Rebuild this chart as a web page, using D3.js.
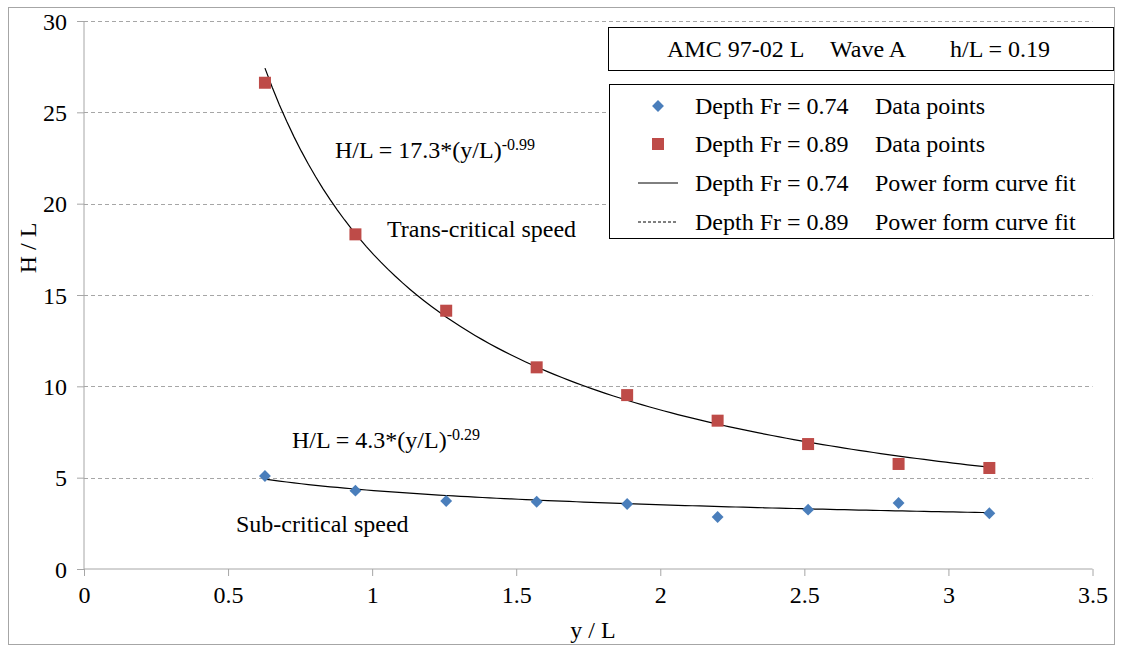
<!DOCTYPE html>
<html>
<head>
<meta charset="utf-8">
<script src="https://cdn.jsdelivr.net/npm/d3@7"></script>
<style>
  body { margin: 0; background: #fff; font-family: "Liberation Serif", serif; }
</style>
</head>
<body>
<svg width="1121" height="651"></svg>
<script>
var width = 1121,
    height = 651,
    margin = { left: 84, right: 28, top: 21, bottom: 82 }

// data
var xValues = [0.628, 0.942, 1.257, 1.571, 1.885, 2.199, 2.513, 2.827, 3.142]
var subCritical = [5.09, 4.29, 3.72, 3.68, 3.56, 2.85, 3.25, 3.61, 3.05]   // Depth Fr = 0.74
var transCritical = [26.62, 18.32, 14.14, 11.04, 9.52, 8.12, 6.84, 5.75, 5.53] // Depth Fr = 0.89
var fitCoef = [4.3, 17.3]
var fitExp = [-0.29, -0.99]
var xTicks = [0, 0.5, 1, 1.5, 2, 2.5, 3, 3.5]
var yTicks = [0, 5, 10, 15, 20, 25, 30]
var titleParts = ["AMC 97-02 L", "Wave A", "h/L = 0.19"]
var legendLabels = [
    ["Depth Fr = 0.74", "Data points"],
    ["Depth Fr = 0.89", "Data points"],
    ["Depth Fr = 0.74", "Power form curve fit"],
    ["Depth Fr = 0.89", "Power form curve fit"]
]

var blue = "#4a7ebb", red = "#be4b48", grid = "#a6a6a6", axisCol = "#a6a6a6"
var font = "Liberation Serif, Times New Roman, Nimbus Roman, Times, serif"
var fs = 24, fsSup = 16

var svg = d3.select("svg")

// outer chart border
svg.append("rect").attr("x", 8.5).attr("y", 7.5)
    .attr("width", 1106).attr("height", 637)
    .attr("fill", "#fff").attr("stroke", "#a6a6a6").attr("stroke-width", 1)

var g = svg.append("g").attr("transform", "translate(" + margin.left + "," + margin.top + ")")

var x = d3.scaleLinear().domain([0, 3.5]).range([0, 1008.5])
var y = d3.scaleLinear().domain([0, 30]).range([548, 0])

// gridlines
g.selectAll(".grid").data(yTicks.filter(function(d) { return d > 0 }))
    .enter().append("line")
    .attr("x1", 0).attr("x2", x(3.5))
    .attr("y1", function(d) { return Math.round(y(d)) + 0.5 })
    .attr("y2", function(d) { return Math.round(y(d)) + 0.5 })
    .attr("stroke", grid).attr("stroke-dasharray", "4,3")

var xAxis = d3.axisBottom(x).tickValues(xTicks).tickSize(7).tickFormat(d3.format("~g"))
var yAxis = d3.axisLeft(y).tickValues(yTicks).tickSize(7).tickFormat(d3.format("~g"))

var gx = g.append("g").attr("transform", "translate(0," + y(0) + ")").call(xAxis)
var gy = g.append("g").call(yAxis)
;[gx, gy].forEach(function(a) {
    a.attr("font-family", font).attr("font-size", fs)
    a.select(".domain").attr("d", null)
    a.selectAll(".tick line").attr("stroke", axisCol)
    a.selectAll("text").attr("fill", "#000")
})
gx.append("line").attr("x1", 0).attr("x2", x(3.5)).attr("stroke", axisCol)
gy.append("line").attr("y1", 0).attr("y2", y(0)).attr("stroke", axisCol)
gx.selectAll("text").attr("dy", "1.0em")
gy.selectAll("text").attr("dx", "-7").attr("dy", "0.34em")

function label(sel, xp, yp, txt) {
    return sel.append("text").attr("x", xp).attr("y", yp)
        .attr("font-family", font).attr("font-size", fs).text(txt)
}

// axis titles
label(svg, 593, 638, "y / L").attr("text-anchor", "middle")
label(svg, 0, 0, "H / L").attr("text-anchor", "middle")
    .attr("transform", "translate(36,248) rotate(-90)")

// fit curves
var line = d3.line().x(function(d) { return x(d[0]) }).y(function(d) { return y(d[1]) })
fitCoef.forEach(function(c, i) {
    var pts = d3.range(0, 101).map(function(k) {
        var xv = xValues[0] + (xValues[xValues.length - 1] - xValues[0]) * k / 100
        return [xv, c * Math.pow(xv, fitExp[i])]
    })
    g.append("path").datum(pts).attr("d", line)
        .attr("fill", "none").attr("stroke", "#000").attr("stroke-width", 1.2)
})

// points
var diamond = d3.symbol().type(d3.symbolDiamond2).size(90)
g.selectAll(".sub").data(subCritical).enter().append("path")
    .attr("d", diamond)
    .attr("transform", function(d, i) { return "translate(" + x(xValues[i]) + "," + y(d) + ")" })
    .attr("fill", blue)

g.selectAll(".trans").data(transCritical).enter().append("rect")
    .attr("x", function(d, i) { return x(xValues[i]) - 6 })
    .attr("y", function(d) { return y(d) - 6 })
    .attr("width", 12).attr("height", 12)
    .attr("fill", red)

// annotations
function eq(xp, yp, c, e) {
    var t = label(svg, xp, yp, null)
    t.append("tspan").text("H/L = " + c + "*(y/L)")
    t.append("tspan").attr("dy", -8).attr("font-size", fsSup).text(e)
}
eq(335, 158, "17.3", "-0.99")
eq(292, 448, "4.3", "-0.29")
label(svg, 387, 237, "Trans-critical speed")
label(svg, 236, 532, "Sub-critical speed")

// title box
svg.append("rect").attr("x", 608.5).attr("y", 27.5).attr("width", 505).attr("height", 43)
    .attr("fill", "#fff").attr("stroke", "#000")
var titleX = [667, 830, 950]
titleParts.forEach(function(t, i) { label(svg, titleX[i], 57, t) })

// legend
var lg = svg.append("g")
lg.append("rect").attr("x", 609.5).attr("y", 84.5).attr("width", 504).attr("height", 154)
    .attr("fill", "#fff").attr("stroke", "#000")
var rowY = [106, 144, 183, 222]
legendLabels.forEach(function(lab, i) {
    var cy = rowY[i]
    if (i === 0) {
        lg.append("path").attr("d", diamond).attr("transform", "translate(658," + cy + ")").attr("fill", blue)
    } else if (i === 1) {
        lg.append("rect").attr("x", 652).attr("y", cy - 6).attr("width", 12).attr("height", 12).attr("fill", red)
    } else {
        lg.append("line").attr("x1", 638).attr("x2", 678).attr("y1", cy).attr("y2", cy)
            .attr("stroke", "#000").attr("stroke-width", 1)
            .attr("stroke-dasharray", i === 3 ? "3,2" : null)
    }
    label(lg, 695, cy + 8, lab[0])
    label(lg, 875, cy + 8, lab[1])
})
</script>
</body>
</html>
